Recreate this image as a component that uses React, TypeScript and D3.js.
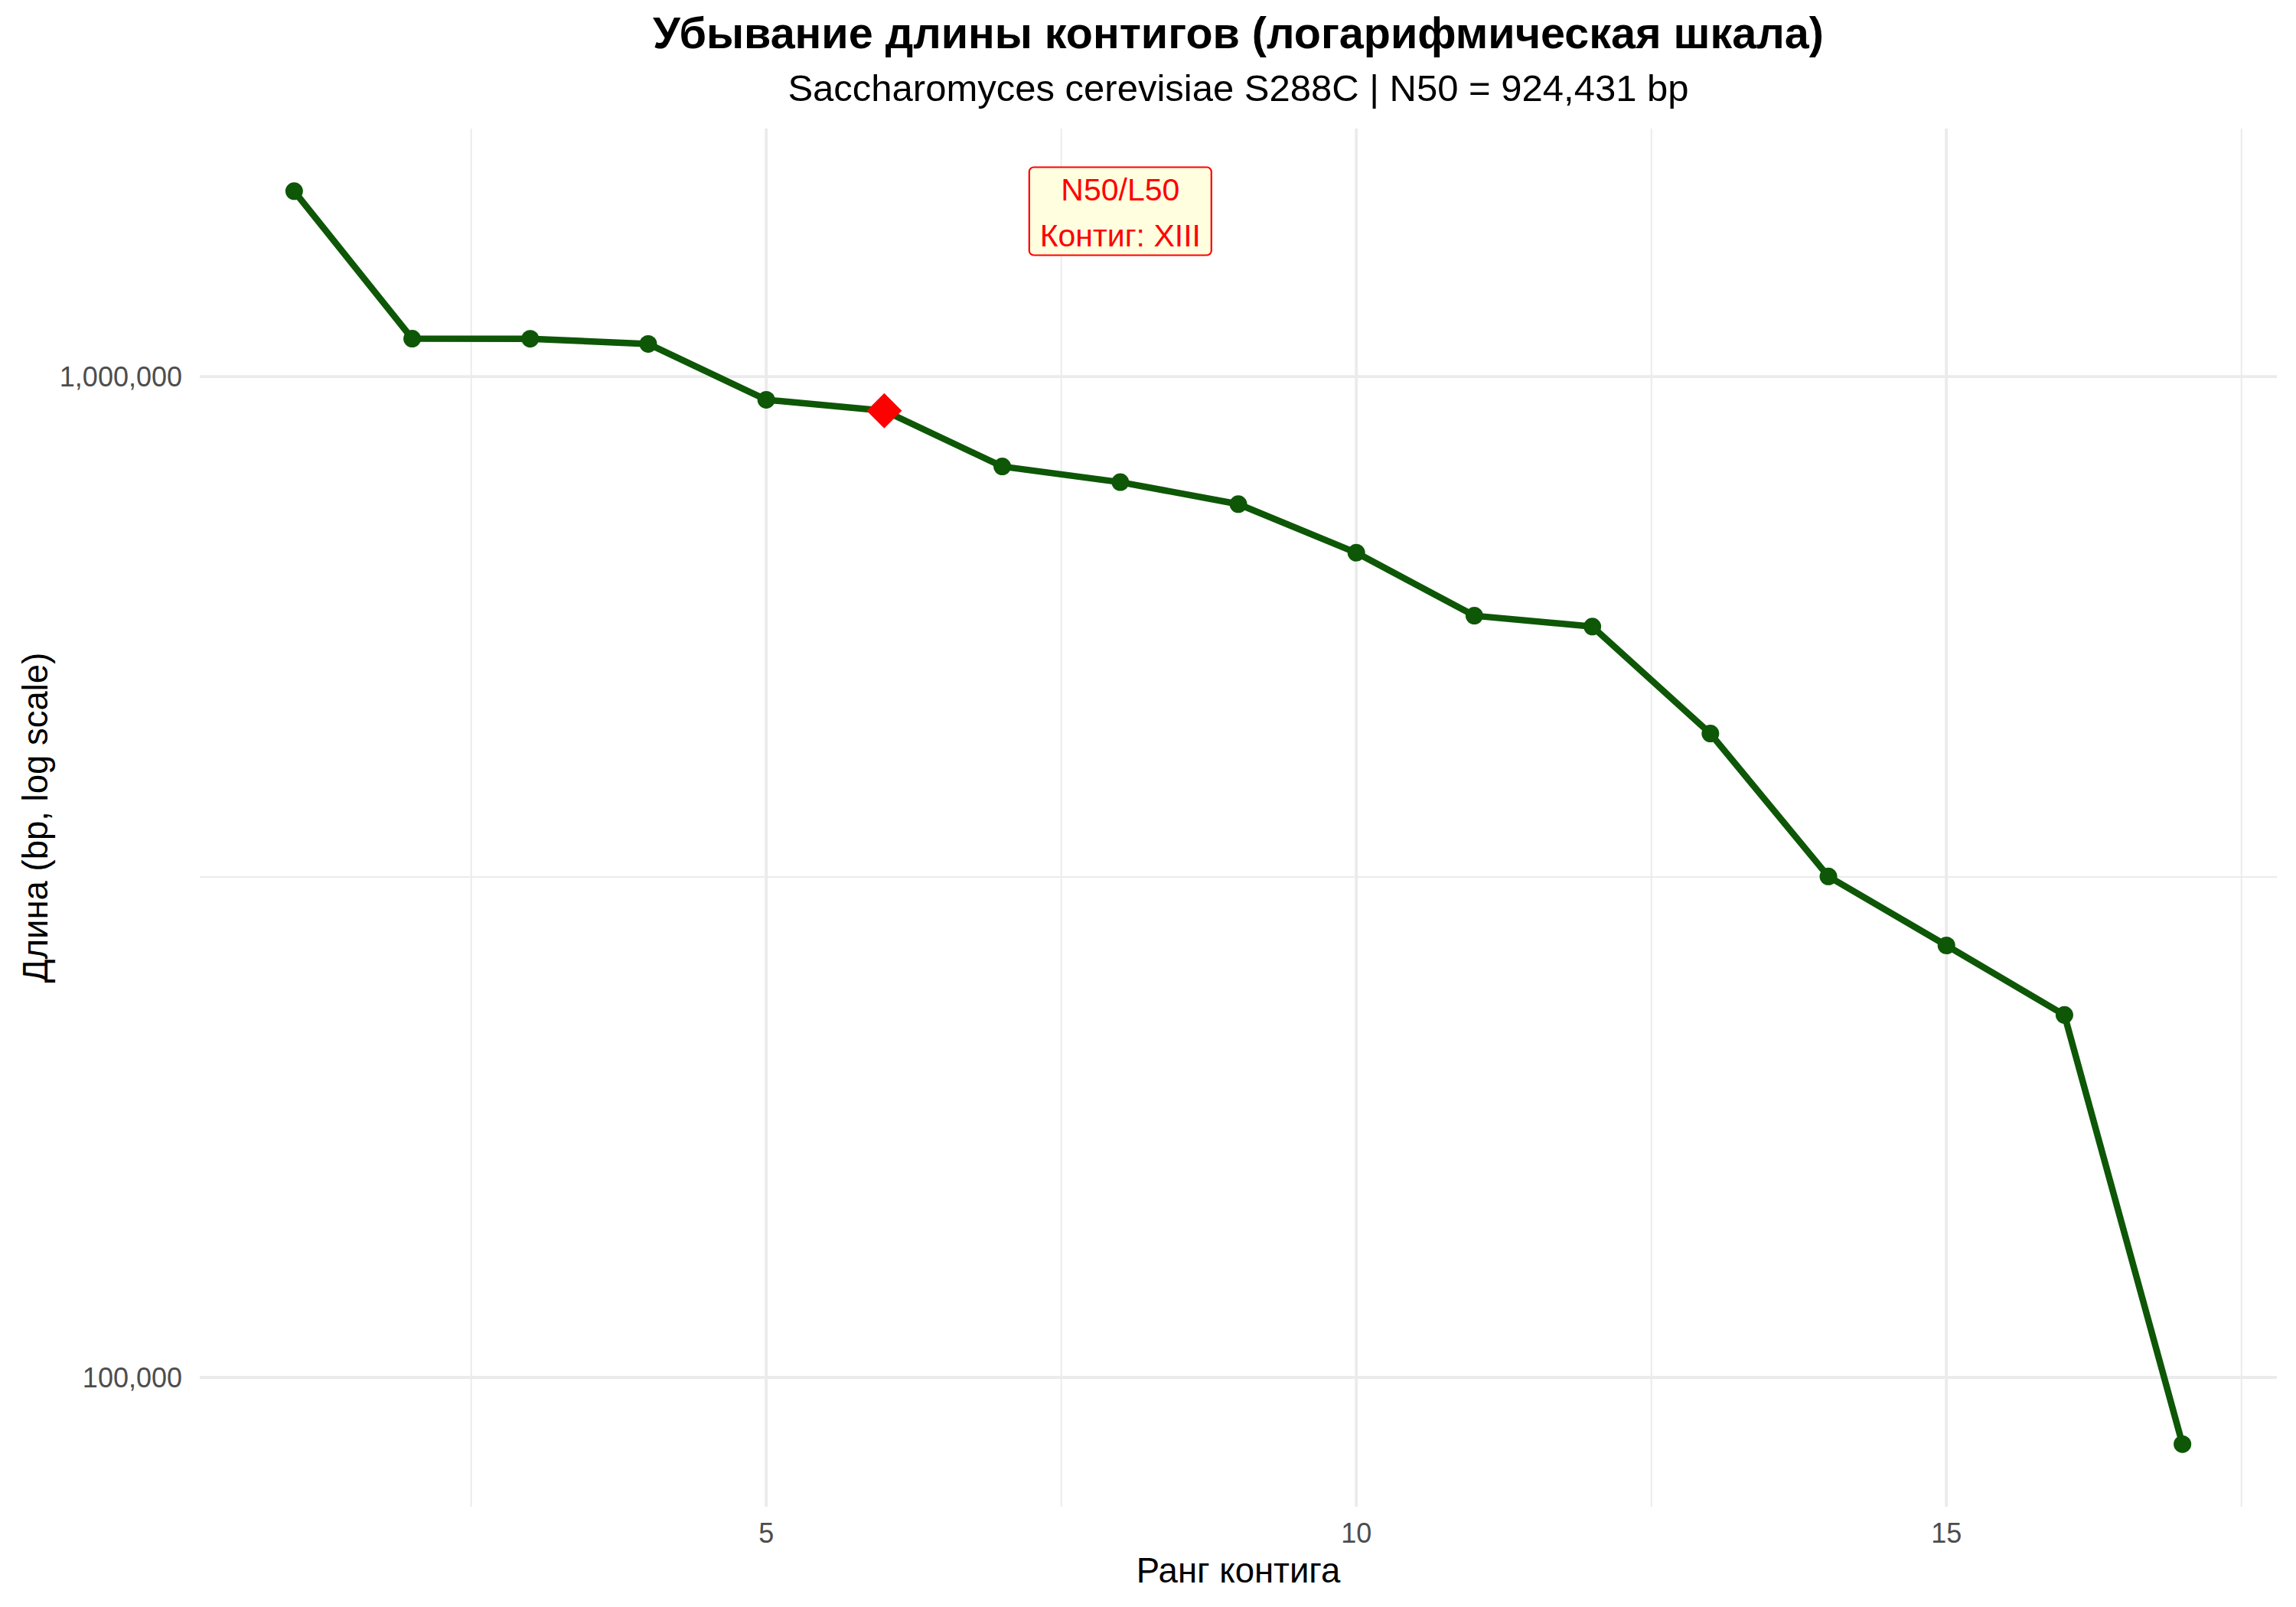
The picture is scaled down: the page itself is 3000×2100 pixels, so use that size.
import React from "react";
import * as d3 from "d3";

const contigNames = ["IV", "XV", "VII", "XII", "XVI", "XIII", "II", "XIV", "X", "XI", "V", "VIII", "IX", "III", "VI", "I", "Mito"];
const contigLengths = [1531933, 1091291, 1090940, 1078177, 948066, 924431, 813184, 784333, 745751, 666816, 576874, 562643, 439888, 316620, 270161, 230218, 85779];
const xMajorTicks = [5, 10, 15];
const xMinorTicks = [2.5, 7.5, 12.5, 17.5];
const yMajorTicks = [100000, 1000000];
const yMinorTicks = [Math.sqrt(10) * 100000];
const n50Index = 5;
const titleText = "Убывание длины контигов (логарифмическая шкала)";
const subtitleText = "Saccharomyces cerevisiae S288C | N50 = 924,431 bp";
const xLabel = "Ранг контига";
const yLabel = "Длина (bp, log scale)";
const labelLines = ["N50/L50", "Контиг: XIII"];

const W = 3000;
const H = 2100;
const panel = { left: 261, right: 2975, top: 168, bottom: 1969 };
const green = "#0d5707";
const font = "'Liberation Sans', Arial, Helvetica, sans-serif";

export default function App() {
  const ranks = contigLengths.map((_, i) => i + 1);
  const n = ranks.length;
  const xPad = (n - 1) * 0.05;
  const x = d3.scaleLinear().domain([1 - xPad, n + xPad]).range([panel.left, panel.right]);
  const lmin = Math.log10(d3.min(contigLengths) as number);
  const lmax = Math.log10(d3.max(contigLengths) as number);
  const lpad = (lmax - lmin) * 0.05;
  const y = d3.scaleLog().domain([Math.pow(10, lmin - lpad), Math.pow(10, lmax + lpad)]).range([panel.bottom, panel.top]);
  const pts = contigLengths.map((v, i) => [x(i + 1), y(v)] as [number, number]);
  const line = d3.line()(pts) || "";
  const fmt = d3.format(",");
  const diamond = d3.symbol().type(d3.symbolSquare).size(1060)() || "";
  const labelX = x(n50Index + 3);
  const labelY = y((d3.max(contigLengths) as number) * 0.955);
  const cx = (panel.left + panel.right) / 2;
  const cy = (panel.top + panel.bottom) / 2;

  return (
    <svg width={W} height={H} style={{ position: "absolute", left: 0, top: 0, background: "#fff" }} fontFamily={font}>
      <rect width={W} height={H} fill="#fff" />
      {xMinorTicks.map((t) => (
        <line key={"xm" + t} x1={x(t)} x2={x(t)} y1={panel.top} y2={panel.bottom} stroke="#EBEBEB" strokeWidth={2} />
      ))}
      {yMinorTicks.map((t) => (
        <line key={"ym" + t} x1={panel.left} x2={panel.right} y1={y(t)} y2={y(t)} stroke="#EBEBEB" strokeWidth={2} />
      ))}
      {xMajorTicks.map((t) => (
        <line key={"xM" + t} x1={x(t)} x2={x(t)} y1={panel.top} y2={panel.bottom} stroke="#EBEBEB" strokeWidth={3.8} />
      ))}
      {yMajorTicks.map((t) => (
        <line key={"yM" + t} x1={panel.left} x2={panel.right} y1={y(t)} y2={y(t)} stroke="#EBEBEB" strokeWidth={3.8} />
      ))}
      <path d={line} fill="none" stroke={green} strokeWidth={8.5} strokeLinejoin="round" />
      {pts.map((p, i) => (
        <circle key={contigNames[i]} cx={p[0]} cy={p[1]} r={11.5} fill={green} />
      ))}
      <path d={diamond} transform={`translate(${pts[n50Index][0]},${pts[n50Index][1]}) rotate(45)`} fill="#ff0000" />
      <rect x={labelX - 119} y={labelY - 57.5} width={238} height={115} rx={6} ry={6} fill="#FFFFE0" stroke="#ff0000" strokeWidth={2.2} />
      <text x={labelX} y={labelY - 14} textAnchor="middle" fontSize={41} fill="#ff0000">{labelLines[0]}</text>
      <text x={labelX} y={labelY + 46} textAnchor="middle" fontSize={41} fill="#ff0000">{labelLines[1]}</text>
      {yMajorTicks.map((t) => (
        <text key={"yl" + t} x={238} y={y(t)} dy="0.36em" textAnchor="end" fontSize={36} fill="#4D4D4D">{fmt(t)}</text>
      ))}
      {xMajorTicks.map((t) => (
        <text key={"xl" + t} x={x(t)} y={2016} textAnchor="middle" fontSize={36} fill="#4D4D4D">{t}</text>
      ))}
      <text x={cx} y={2068} textAnchor="middle" fontSize={45.5} fill="#000">{xLabel}</text>
      <text transform={`translate(62,${cy}) rotate(-90)`} textAnchor="middle" fontSize={45.5} fill="#000">{yLabel}</text>
      <text x={cx} y={63} textAnchor="middle" fontSize={57.5} fontWeight="bold" fill="#000">{titleText}</text>
      <text x={cx} y={132} textAnchor="middle" fontSize={49} fill="#000">{subtitleText}</text>
    </svg>
  );
}
